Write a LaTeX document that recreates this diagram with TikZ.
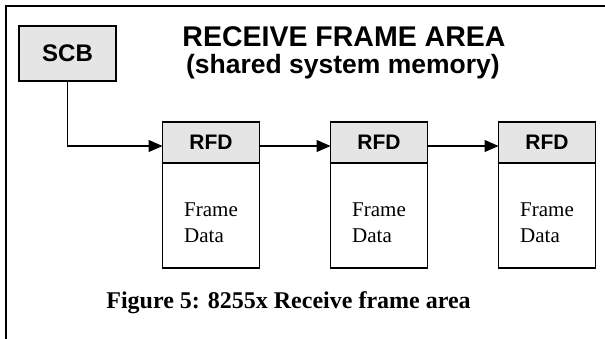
\documentclass[tikz,border=0pt]{standalone}
\usepackage{fontspec}
\setmainfont{Liberation Serif}
\setsansfont{Liberation Sans}
\usetikzlibrary{positioning, arrows.meta}

\begin{document}
\begin{tikzpicture}[x=1pt, y=-1pt, node distance=71pt,
    hdr/.style={draw, fill=black!10, line width=1.4pt, outer sep=0pt, inner sep=0pt,
      minimum width=97pt, minimum height=41pt, font=\sffamily\bfseries\fontsize{21}{24}\selectfont},
    body/.style={draw, line width=1.4pt, outer sep=0pt, inner sep=0pt,
      minimum width=97pt, minimum height=105pt},
    frametext/.style={align=left, inner sep=0pt, font=\fontsize{21}{26}\selectfont},
    link/.style={-{Triangle[length=14pt, width=12pt]}, line width=1.3pt}]
    \useasboundingbox (0,0) rectangle (605,339);
    \draw[line width=2pt] (6,340) -- (6,6) -- (606,6);

    \node[draw, fill=black!10, line width=1.4pt, outer sep=0pt, minimum width=97pt, minimum height=55pt,
      font=\sffamily\bfseries\fontsize{24}{27}\selectfont] (scb) at (67.5,53.5) {SCB};
    \node[anchor=base, font=\sffamily\bfseries\fontsize{28.5}{32}\selectfont] (title) at (344,47) {RECEIVE FRAME AREA};
    \node[anchor=base, font=\sffamily\bfseries\fontsize{26.5}{30}\selectfont] (subtitle) at (343,74) {(shared system memory)};

    \node[hdr] (rfdA) at (211,142.5) {RFD};
    \node[hdr] (rfdB) [right=of rfdA] {RFD};
    \node[hdr] (rfdC) [right=of rfdB] {RFD};
    \node[body] (dataA) [below=0pt of rfdA] {};
    \node[body] (dataB) [below=0pt of rfdB] {};
    \node[body] (dataC) [below=0pt of rfdC] {};
    \node[frametext] (txtA) at ([yshift=-7pt]dataA.center) {Frame\\Data};
    \node[frametext] (txtB) at ([yshift=-7pt]dataB.center) {Frame\\Data};
    \node[frametext] (txtC) at ([yshift=-7pt]dataC.center) {Frame\\Data};

    \node[anchor=base, font=\bfseries\fontsize{24}{28}\selectfont] (caption) at (288.5,308) {Figure 5: 8255x Receive frame area};

    \draw[link] (scb.south) |- ([yshift=-3.5pt]rfdA.west);
    \draw[link] ([yshift=-3.5pt]rfdA.east) -- ([yshift=-3.5pt]rfdB.west);
    \draw[link] ([yshift=-3.5pt]rfdB.east) -- ([yshift=-3.5pt]rfdC.west);
\end{tikzpicture}
\end{document}
